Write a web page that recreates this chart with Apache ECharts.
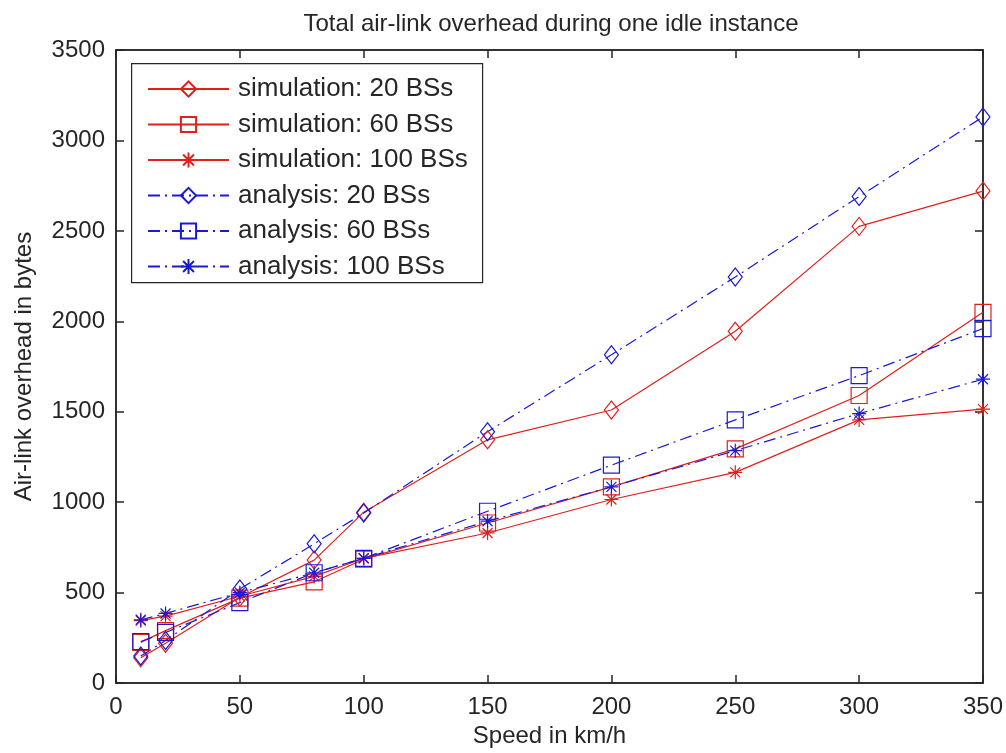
<!DOCTYPE html>
<html>
<head>
<meta charset="utf-8">
<script src="https://cdn.jsdelivr.net/npm/echarts@6/dist/echarts.min.js"></script>
<style>
  html, body { margin: 0; padding: 0; background: #fff; }
  #chart { width: 1006px; height: 753px; }
</style>
</head>
<body>
<div id="chart"></div>
<script>
// speeds (km/h) and overhead values (bytes)
const speeds = [10, 20, 50, 80, 100, 150, 200, 250, 300, 350]
const sim20 = [140, 220, 475, 680, 945, 1345, 1510, 1945, 2525, 2720]
const sim60 = [225, 290, 470, 560, 685, 885, 1085, 1295, 1590, 2050]
const sim100 = [345, 370, 480, 590, 690, 830, 1015, 1165, 1455, 1515]
const ana20 = [150, 235, 520, 770, 940, 1390, 1815, 2245, 2690, 3130]
const ana60 = [230, 280, 445, 610, 690, 950, 1205, 1455, 1700, 1960]
const ana100 = [350, 385, 500, 610, 690, 895, 1085, 1285, 1490, 1680]
const legendNames = [
  'simulation: 20 BSs', 'simulation: 60 BSs', 'simulation: 100 BSs',
  'analysis: 20 BSs', 'analysis: 60 BSs', 'analysis: 100 BSs'
]

const RED = '#e0201c'
const BLUE = '#1a1ad6'
const INK = '#262626'
const FONT = '"Liberation Sans", Arial, Helvetica, sans-serif'

const DIAMOND = 'path://M7,0L14,9L7,18L0,9Z'
const SQUARE = 'path://M0,0L16,0L16,16L0,16Z'
const STAR = 'path://M7,0L7,14M0,7L14,7M2,2L12,12M2,12L12,2'

function makeSeries(name, values, color, symbol, size, dashed) {
  return {
    name: name,
    type: 'line',
    xAxisIndex: 0,
    yAxisIndex: 0,
    data: speeds.map((s, i) => [s, values[i]]),
    symbol: symbol,
    symbolSize: size,
    showAllSymbol: true,
    itemStyle: { color: 'rgba(0,0,0,0)', borderColor: color, borderWidth: 1.2 },
    lineStyle: { color: color, width: 1.2, type: dashed ? [12, 5, 2, 5] : 'solid' },
    emphasis: { disabled: true },
    z: 2
  }
}

const chart = echarts.init(document.getElementById('chart'))

function axis(extra) {
  return Object.assign({
    type: 'value',
    axisLine: { show: true, onZero: false, lineStyle: { color: INK, width: 1.5 } },
    axisTick: { show: true, inside: true, length: 8, lineStyle: { color: INK, width: 1.5 } },
    splitLine: { show: false }
  }, extra)
}

const option = {
  animation: false,
  backgroundColor: '#fff',
  title: {
    text: 'Total air-link overhead during one idle instance',
    left: 546,
    textAlign: 'center',
    top: 7,
    textStyle: { fontFamily: FONT, fontSize: 24, fontWeight: 'normal', color: INK }
  },
  grid: { left: 116, right: 22, top: 50, bottom: 65, show: true, borderColor: INK, borderWidth: 1.5 },
  legend: {
    data: legendNames,
    orient: 'vertical',
    left: 147,
    top: 76,
    padding: 0,
    itemGap: 9.5,
    itemWidth: 81,
    itemHeight: 19,
    selectedMode: false,
    textStyle: { fontFamily: FONT, fontSize: 26, color: INK, lineHeight: 26, padding: [0, 0, 0, 4] },
    z: 5
  },
  graphic: [{
    type: 'rect',
    left: 131,
    top: 63,
    shape: { width: 351, height: 219 },
    style: { fill: '#fff', stroke: INK, lineWidth: 1.2 },
    z: 4
  }],
  xAxis: [
    axis({
      position: 'bottom',
      min: 0, max: 350, interval: 50,
      name: 'Speed in km/h',
      nameLocation: 'middle',
      nameGap: 38,
      nameTextStyle: { fontFamily: FONT, fontSize: 24, color: INK },
      axisLabel: { fontFamily: FONT, fontSize: 24, color: INK, margin: 12 }
    }),
    axis({
      position: 'top',
      min: 0, max: 350, interval: 50,
      axisLabel: { show: false }
    })
  ],
  yAxis: [
    axis({
      position: 'left',
      min: 0, max: 3500, interval: 500,
      name: 'Air-link overhead in bytes',
      nameLocation: 'middle',
      nameGap: 80,
      nameTextStyle: { fontFamily: FONT, fontSize: 24, color: INK },
      axisLabel: { fontFamily: FONT, fontSize: 24, color: INK, margin: 11, formatter: v => String(v) }
    }),
    axis({
      position: 'right',
      min: 0, max: 3500, interval: 500,
      axisLabel: { show: false }
    })
  ],
  series: [
    makeSeries(legendNames[0], sim20, RED, DIAMOND, [14, 18], false),
    makeSeries(legendNames[1], sim60, RED, SQUARE, 16, false),
    makeSeries(legendNames[2], sim100, RED, STAR, 14, false),
    makeSeries(legendNames[3], ana20, BLUE, DIAMOND, [14, 18], true),
    makeSeries(legendNames[4], ana60, BLUE, SQUARE, 16, true),
    makeSeries(legendNames[5], ana100, BLUE, STAR, 14, true),
    // empty series so the top/right tick axes get drawn
    { type: 'line', xAxisIndex: 1, yAxisIndex: 1, data: [], silent: true }
  ]
}

chart.setOption(option)
</script>
</body>
</html>
